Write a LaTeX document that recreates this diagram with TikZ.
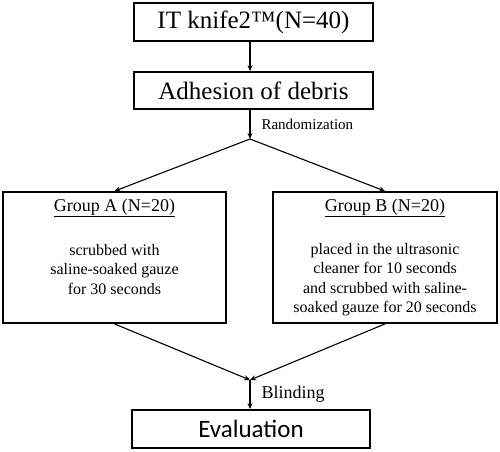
\documentclass[tikz,border=0pt]{standalone}
\usepackage{fontspec}
\setmainfont{Liberation Serif}
\newfontfamily\evalfont{Carlito}
\usetikzlibrary{arrows.meta}

\begin{document}
\begin{tikzpicture}[x=1pt,y=-1pt,
		box/.style={draw=black,line width=1.8pt,inner sep=0pt},
		txt/.style={inner sep=0pt,align=center,font=\fontsize{16}{19.5}\selectfont},
		arr/.style={line width=1.1pt,-{Stealth[length=6pt,width=5pt]}}]
			\useasboundingbox (0,0) rectangle (500,451);

			%top boxes
			\node [box,minimum width=239pt,minimum height=38pt,font=\fontsize{25}{29}\selectfont] (n1) at (253.5,22) {IT knife2™(N=40)};
			\node [box,minimum width=239pt,minimum height=37pt,font=\fontsize{25}{29}\selectfont] (n2) at (253.5,90.5) {Adhesion of debris};

			%group boxes
			\node [box,minimum width=223pt,minimum height=131pt] (ga) at (114.5,257.5) {};
			\node [box,minimum width=224pt,minimum height=131pt] (gb) at (385,257.5) {};
			\node [txt,font=\fontsize{18}{21}\selectfont] (ta) at (114.5,208) {\underline{Group A (N=20)}};
			\node [txt,font=\fontsize{18}{21}\selectfont] (tb) at (385,208) {\underline{Group B (N=20)}};
			\node [txt] (da) at (114.5,269.5) {scrubbed with\\saline-soaked gauze\\for 30 seconds};
			\node [txt] (db) at (385,279.5) {placed in the ultrasonic\\cleaner for 10 seconds\\and scrubbed with saline-\\soaked gauze for 20 seconds};

			%bottom box
			\node [box,minimum width=238pt,minimum height=38pt,font=\evalfont\fontsize{25}{30}\selectfont] (ev) at (251,429) {Evaluation};

			%edges
			\coordinate (r) at (250,139);
			\coordinate (j) at (250,380);
			\draw[arr] (n1.south -| r) -- (n2.north -| r);
			\draw[arr] (n2.south -| r) -- node[right=11pt,inner sep=0pt,font=\fontsize{15}{18}\selectfont] (lr) {Randomization} (r);
			\draw[arr] (r) -- (ga.north);
			\draw[arr] (r) -- (gb.north);
			\draw[arr] (ga.south) -- (j);
			\draw[arr] (gb.south) -- (j);
			\draw[arr] (j) -- node[right=11pt,inner sep=0pt,font=\fontsize{18}{21}\selectfont] (lb) {Blinding} (ev.north -| j);
		\end{tikzpicture}
\end{document}
